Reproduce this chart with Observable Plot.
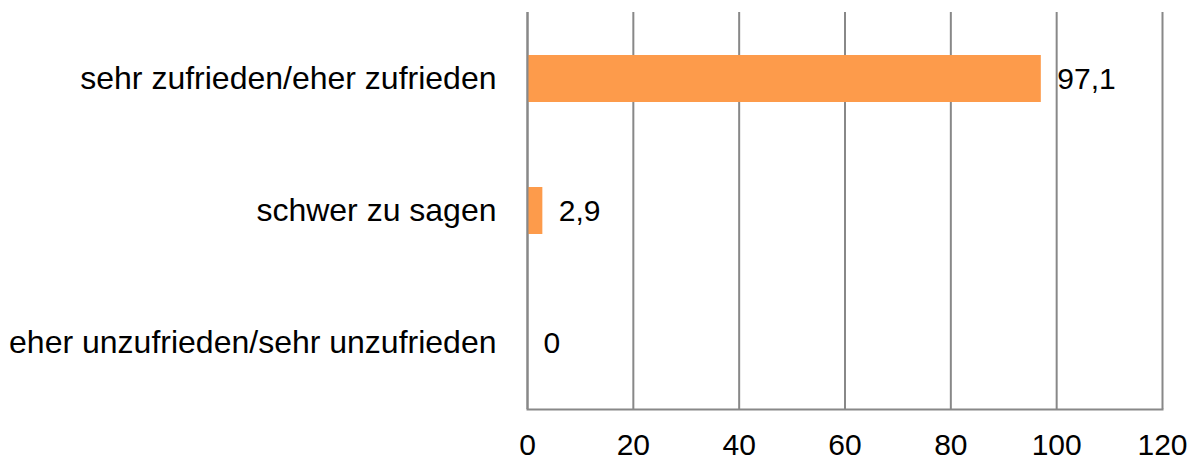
<!DOCTYPE html>
<html>
<head>
<meta charset="utf-8">
<script src="https://cdn.jsdelivr.net/npm/d3@7"></script>
<script src="https://cdn.jsdelivr.net/npm/@observablehq/plot@0.6"></script>
<style>
  html, body { margin: 0; padding: 0; background: #fff; }
  #chart svg { display: block; }
</style>
</head>
<body>
<div id="chart"></div>
<script>
const categories = [
  "sehr zufrieden/eher zufrieden",
  "schwer zu sagen",
  "eher unzufrieden/sehr unzufrieden"
];
const values = [97.1, 2.9, 0];
const xTicks = [0, 20, 40, 60, 80, 100, 120];

const data = categories.map((c, i) => ({category: c, value: values[i]}));
const fmt = v => String(v).replace(".", ",");

const chart = Plot.plot({
  width: 1193,
  height: 461,
  marginLeft: 527,
  marginRight: 31,
  marginTop: 12,
  marginBottom: 52,
  style: {fontFamily: "'Liberation Sans', Arial, sans-serif", fontSize: "30px", color: "#000", background: "#fff"},
  x: {domain: [0, 120], ticks: xTicks, label: null},
  y: {domain: categories, paddingInner: 0.645, paddingOuter: 0.3225, label: null},
  marks: [
    Plot.ruleX(xTicks, {stroke: "#888", strokeWidth: 2, strokeOpacity: 1}),
    Plot.frame({anchor: "bottom", stroke: "#888", strokeWidth: 2}),
    Plot.barX(data, {x: "value", y: "category", fill: "#FD9B4B", insetTop: 0, insetBottom: 0}),
    Plot.ruleX([0], {stroke: "#888", strokeWidth: 2}),
    Plot.text(data, {x: "value", y: "category", text: d => fmt(d.value), textAnchor: "start", dx: 16, fontSize: 30, fill: "#000"}),
    Plot.axisX({ticks: xTicks, tickSize: 0, tickPadding: 24, fontSize: 30, label: null}),
    Plot.axisY({tickSize: 0, tickPadding: 31, fontSize: 32, label: null})
  ]
});
document.getElementById("chart").appendChild(chart);
</script>
</body>
</html>
